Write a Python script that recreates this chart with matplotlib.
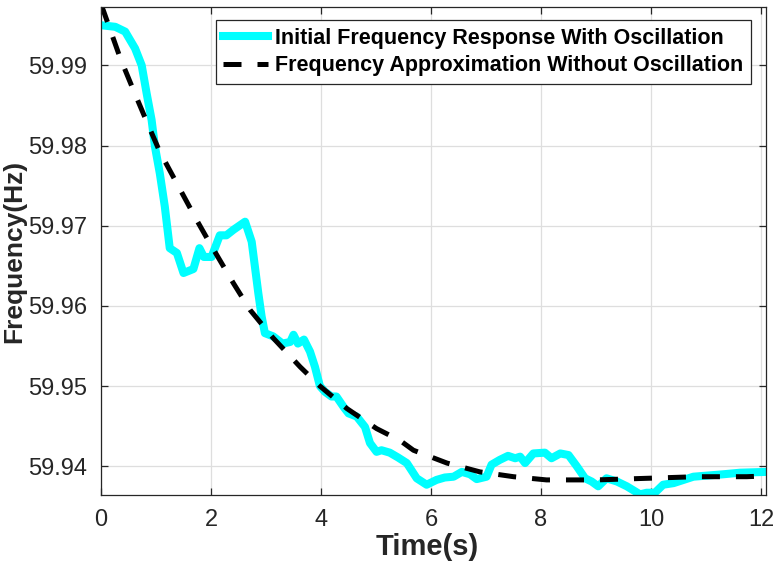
import numpy as np
import matplotlib
matplotlib.use('Agg')
import matplotlib.pyplot as plt

plt.rcParams['font.family'] = ['Liberation Sans', 'DejaVu Sans']

# 含振荡的初始频率响应
t_osc = [0.0, 0.26, 0.44, 0.62, 0.74, 0.83, 0.92, 0.98, 1.07, 1.16, 1.25, 1.38, 1.50, 1.68,
         1.79, 1.87, 2.01, 2.16, 2.28, 2.41, 2.62, 2.74, 2.86, 2.92, 2.98, 3.13, 3.30, 3.44,
         3.50, 3.58, 3.69, 3.80, 3.89, 3.98, 4.07, 4.19, 4.28, 4.41, 4.50, 4.65, 4.80, 4.89,
         5.01, 5.10, 5.25, 5.40, 5.56, 5.74, 5.92, 6.10, 6.25, 6.41, 6.56, 6.71, 6.83, 7.01,
         7.10, 7.25, 7.40, 7.53, 7.62, 7.71, 7.86, 8.07, 8.19, 8.35, 8.50, 8.65, 8.80, 8.92,
         9.04, 9.19, 9.38, 9.56, 9.80, 9.92, 10.07, 10.22, 10.41, 10.77, 11.13, 11.31, 11.62,
         12.1]
f_osc = [59.9950, 59.9948, 59.9942, 59.9921, 59.9900, 59.9865, 59.9832, 59.9799, 59.9765,
         59.9724, 59.9672, 59.9666, 59.9641, 59.9646, 59.9672, 59.9661, 59.9661, 59.9688,
         59.9688, 59.9695, 59.9705, 59.9680, 59.9616, 59.9587, 59.9566, 59.9562, 59.9553,
         59.9555, 59.9564, 59.9553, 59.9558, 59.9543, 59.9524, 59.9500, 59.9493, 59.9487,
         59.9487, 59.9474, 59.9466, 59.9462, 59.9449, 59.9429, 59.9418, 59.9420, 59.9417,
         59.9411, 59.9404, 59.9385, 59.9377, 59.9383, 59.9386, 59.9387, 59.9393, 59.9390,
         59.9384, 59.9387, 59.9402, 59.9408, 59.9413, 59.9410, 59.9412, 59.9404, 59.9416,
         59.9417, 59.9410, 59.9416, 59.9414, 59.9400, 59.9385, 59.9381, 59.9375, 59.9385,
         59.9381, 59.9375, 59.9365, 59.9367, 59.9367, 59.9377, 59.9379, 59.9387, 59.9389,
         59.9390, 59.9392, 59.9393]

# 无振荡的频率近似曲线
t_apx = [0.0, 0.04, 0.35, 0.59, 0.83, 1.07, 1.44, 1.74, 1.98, 2.41, 2.71, 3.13, 3.62, 3.98,
         4.47, 5.01, 5.44, 5.68, 6.29, 6.89, 7.50, 8.10, 9.01, 9.92, 10.83, 11.74, 12.1]
f_apx = [59.9975, 59.9969, 59.9909, 59.9869, 59.9830, 59.9792, 59.9745, 59.9707, 59.9678,
         59.9628, 59.9595, 59.9560, 59.9524, 59.9500, 59.9472, 59.9447, 59.9432, 59.9420,
         59.9404, 59.9393, 59.9387, 59.9383, 59.9383, 59.9385, 59.9387, 59.9387, 59.9388]

fig = plt.figure(figsize=(7.75, 5.7), dpi=100)
ax = fig.add_axes([0.1303, 0.1316, 0.8581, 0.8561])

ax.plot(t_osc, f_osc, color='#00FFFF', lw=5.8, solid_joinstyle='round',
        label='Initial Frequency Response With Oscillation')
ax.plot(t_apx, f_apx, color='black', lw=3.6, dashes=(3.6, 3.2),
        label='Frequency Approximation Without Oscillation')

ax.set_xlim(0, 12.09)
ax.set_ylim(59.93642, 59.99727)
ax.set_xticks([0, 2, 4, 6, 8, 10, 12])
ax.set_yticks([59.94, 59.95, 59.96, 59.97, 59.98, 59.99])
ax.set_yticklabels(['59.94', '59.95', '59.96', '59.97', '59.98', '59.99'])

ax.grid(True, color='#dedede', lw=0.9)
ax.set_axisbelow(True)
for s in ax.spines.values():
    s.set_color('#262626')
    s.set_linewidth(0.9)
ax.tick_params(direction='in', length=5, width=0.9, colors='#262626',
               top=True, right=True, labelsize=17, pad=10)

ax.set_xlabel('Time(s)', fontsize=21, fontweight='bold', color='#262626')
ax.set_ylabel('Frequency(Hz)', fontsize=19, fontweight='bold', color='#262626')
ax.xaxis.set_label_coords(0.49, -0.078)
ax.yaxis.set_label_coords(-0.112, 0.5)

leg = ax.legend(loc='upper right', bbox_to_anchor=(0.977, 0.973), borderaxespad=0,
                prop={'weight': 'bold', 'size': 15.5}, fancybox=False, framealpha=1,
                edgecolor='#262626', handlelength=2.1, handletextpad=0.3,
                borderpad=0.35, labelspacing=0.3)
leg.get_frame().set_linewidth(0.9)

fig.savefig('out.png', dpi=100)
